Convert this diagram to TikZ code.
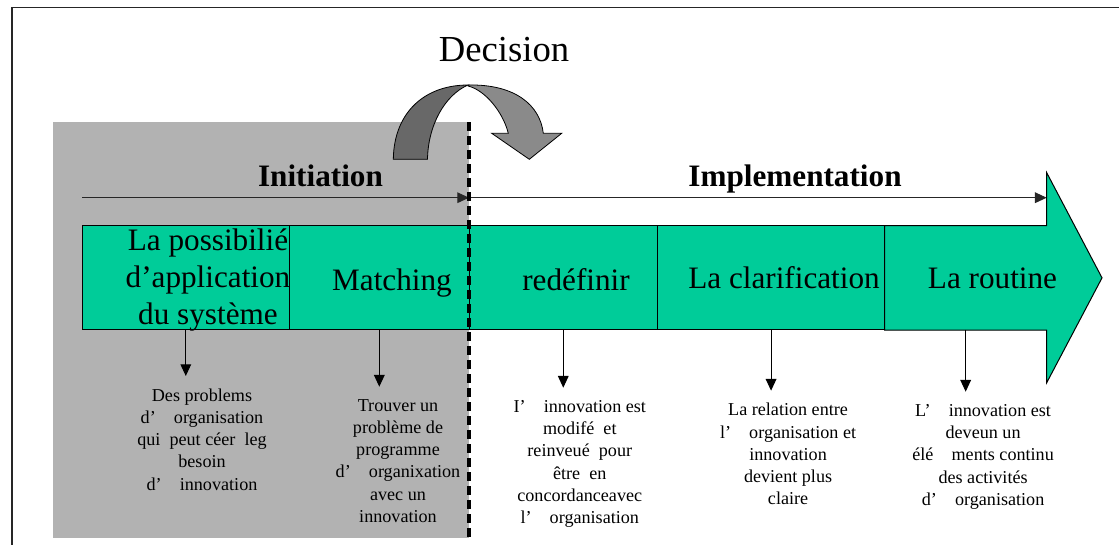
\documentclass[tikz,border=0pt]{standalone}
\usepackage{fontspec}
\setmainfont{Liberation Serif}
\usetikzlibrary{arrows.meta,positioning}
\definecolor{stagegreen}{HTML}{00CC99}
\definecolor{initgray}{HTML}{B2B2B2}
\definecolor{decdark}{HTML}{686868}
\definecolor{declight}{HTML}{8A8A8A}

\begin{document}
\begin{tikzpicture}[
    x=0.75pt, y=-0.75pt,
    band/.style={draw, fill=stagegreen, line width=0.75pt},
    cell/.style={band, inner sep=0pt, outer sep=0pt, minimum height=78.2pt},
    stagetext/.style={font=\fontsize{23.4}{27.75}\selectfont, inner sep=0pt, align=center},
    phase/.style={font=\fontsize{23.4}{28}\selectfont\bfseries, inner sep=0pt, anchor=base},
    desc/.style={font=\fontsize{13.6}{16.7}\selectfont, align=center, anchor=north, inner xsep=0pt, inner ysep=9.15pt},
    tip/.style={-{Triangle[length=8.8pt,width=8pt]}, line width=0.75pt},
    ]
  \useasboundingbox (0,0) rectangle (1119,544);
  \draw[line width=1.2pt, black!85] (12,560) -- (12,7.5) -- (1130,7.5);
  \fill[initgray] (53,122) rectangle (469,537.5);

  % decision
  \node[font=\fontsize{27.5}{33}\selectfont, inner sep=0pt, anchor=base] (decision) at (504,61) {Decision};
  \draw[fill=declight, line width=0.6pt] (468,85) .. controls (515,84) and (540,105) .. (543.3,133.3)
    -- (561.7,133.3) -- (529.3,159.3) -- (491.7,133.3) -- (508.3,133.3)
    .. controls (503,112) and (485,90) .. (468,86) -- cycle;
  \draw[fill=decdark, line width=0.6pt] (393.3,159.3) .. controls (394,112) and (425,85) .. (468,85)
    .. controls (445,95) and (428,125) .. (427.5,159.3) -- cycle;

  % phases
  \node[phase] (initiation) at (320.5,186.7) {Initiation};
  \node[phase] (implementation) at (795,186.7) {Implementation};
  \coordinate (ini) at (82,197.7);
  \coordinate (dec) at (469,197.7);
  \coordinate (fin) at (1046.7,197.7);
  \draw[tip, black!85] (ini) -- (dec);
  \draw[tip, black!85] (dec) -- (fin);

  % stages
  \node[cell, minimum width=155.7pt] (c1) at (185.8,277.85) {};
  \node[cell, minimum width=134.55pt, right=0pt of c1] (c2) {};
  \node[cell, minimum width=141.4pt, right=0pt of c2] (c3) {};
  \node[cell, minimum width=170.3pt, right=0pt of c3] (c4) {};
  \draw[band] (884.6,225.7) -- (1046.7,225.7) -- (1046.7,172.7) -- (1102,277.85)
    -- (1046.7,382.7) -- (1046.7,330) -- (884.6,330) -- cycle;
  \node[inner sep=0pt, outer sep=0pt, minimum width=121.6pt, minimum height=78.2pt, right=0pt of c4] (c5) {};

  \node[stagetext, anchor=north] (l1) at (208,228.5) {La possibilié\\d’application\\du système};
  \node[stagetext, anchor=base] (l2) at (392,290) {Matching};
  \node[stagetext, anchor=base] (l3) at (576,290) {redéfinir};
  \node[stagetext, anchor=base] (l4) at (784,288) {La clarification};
  \node[stagetext, anchor=base] (l5) at (992.5,288.3) {La routine};

  % descriptions
  \node[desc] (d1) at ([shift={(16.2,46)}]c1.south) {Des problems\\d’\quad organisation\\qui\ \ peut céer\ \ leg\\besoin\\d’\quad innovation};
  \node[desc] (d2) at ([shift={(18.7,56.7)}]c2.south) {Trouver un\\problème de\\programme\\d’\quad organixation\\avec un\\innovation};
  \node[desc] (d3) at ([shift={(16.5,57.7)}]c3.south) {I’\quad innovation est\\modifé\ \ et\\reinveué\ \ pour\\être\ \ en\\concordanceavec\\l’\quad organisation};
  \node[desc] (d4) at ([shift={(17,60.7)}]c4.south) {La relation entre\\l’\quad organisation et\\innovation\\devient plus\\claire};
  \node[desc] (d5) at ([shift={(17.4,61.7)}]c5.south) {L’\quad innovation est\\deveun un\\élé\quad ments continu\\des activités\\d’\quad organisation};

  \foreach \i in {1,...,5}
    \draw[tip] (c\i.south) -- (c\i.south |- d\i.north);

  \draw[line width=2.6pt, dash pattern=on 6.5pt off 4pt] (469,122) -- (469,537.5);
\end{tikzpicture}
\end{document}
